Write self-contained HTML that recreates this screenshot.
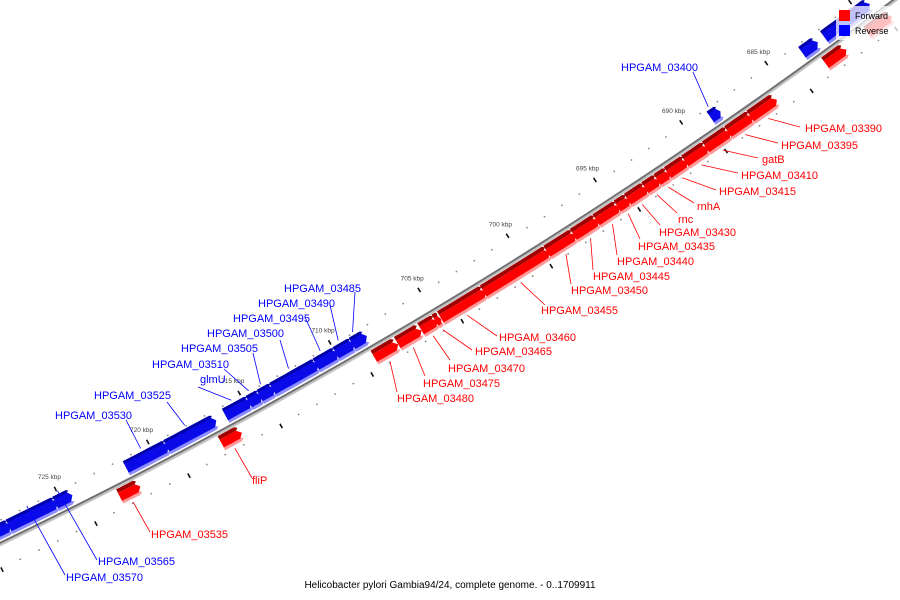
<!DOCTYPE html>
<html><head><meta charset="utf-8"><style>
html,body{margin:0;padding:0;background:#fff;}
svg{display:block;font-family:"Liberation Sans","DejaVu Sans",sans-serif;}
</style></head><body>
<svg id="chart" width="900" height="600" viewBox="0 0 900 600" xmlns="http://www.w3.org/2000/svg">
<g id="ticks"></g>
<g id="backbone"></g>
<g id="genes"></g>
<g id="labels"></g>
<g>
<rect x="836" y="6" width="64" height="34" fill="#fff" fill-opacity="0.75"/>
<rect x="839" y="10" width="11" height="11" fill="#f00"/>
<text x="855" y="19" font-size="9" fill="#000">Forward</text>
<rect x="839" y="25" width="11" height="11" fill="#00f"/>
<text x="855" y="34" font-size="9" fill="#000">Reverse</text>
</g>
<text x="450" y="588" font-size="10" text-anchor="middle" fill="#000">Helicobacter pylori Gambia94/24, complete genome. - 0..1709911</text>
</svg>
<script>
// gene data (kbp)
const geneNames = ["","","","","HPGAM_03390","HPGAM_03395","gatB","HPGAM_03410","HPGAM_03415","rnhA","rnc","HPGAM_03430","HPGAM_03435","HPGAM_03440","HPGAM_03445","HPGAM_03450","HPGAM_03455","HPGAM_03460","HPGAM_03465","HPGAM_03470","HPGAM_03475","HPGAM_03480","fliP","HPGAM_03535","HPGAM_03400","HPGAM_03485","HPGAM_03490","HPGAM_03495","HPGAM_03500","HPGAM_03505","HPGAM_03510","glmU","HPGAM_03525","HPGAM_03530","HPGAM_03565","HPGAM_03570",""];
const geneStart = [679.0,681.7,679.5,682.6,685.8,687.2,688.5,689.8,691.0,692.0,692.6,693.3,694.3,694.9,696.1,697.4,698.9,702.5,704.9,705.2,706.1,707.4,716.0,721.5,688.3,708.5,709.2,710.1,711.2,713.6,714.3,714.9,716.8,719.4,724.6,725.4,727.9];
const geneEnd = [680.2,682.7,682.0,683.3,687.1,688.4,689.7,690.9,691.9,692.5,693.2,694.2,694.8,696.0,697.3,698.8,702.4,704.8,705.1,705.9,707.2,708.5,716.9,722.4,688.7,709.1,710.0,711.1,713.5,714.2,714.8,716.1,719.3,721.5,725.3,727.8,729.0];
const geneStrand = [1,1,-1,-1,1,1,1,1,1,1,1,1,1,1,1,1,1,1,1,1,1,1,1,1,-1,-1,-1,-1,-1,-1,-1,-1,-1,-1,-1,-1,-1];
const tickLabels = [685,690,695,700,705,710,715,720,725];
// label layout (text x, center y, leader end x, y)
const labelX = [0,0,0,0,805,781,762,741,719,697,678,659,638,617,593,571,541,499,475,448,423,397,252,151,621,284,258,233,207,181,152,200,94,55,98,66,0];
const labelY = [0,0,0,0,128,145,159,175,191,206,219,232,246,261,276,290,310,337,351,368,383,398,480,534,67,288,303,318,333,348,364,379,395,415,561,577,0];
const leadX = [0,0,0,0,800,778,758,738,716,694,677,660,640,617,593,571,545,497,472,450,425,397,252,150,693,355,330,305,280,253,224,198,167,126,97,65,0];
const leadY = [0,0,0,0,127,143,158,173,190,203,213,225,239,255,270,284,305,336,350,360,376,392,478,532,72,292,305,317,340,353,369,387,402,420,560,575,0];

const CX=-2304, CY=-4254, R=5322, A0=54.58, D=0.2243;
const NS="http://www.w3.org/2000/svg";
function pt(k,r){const t=(A0+(k-685)*D)*Math.PI/180;return [CX+r*Math.cos(t),CY+r*Math.sin(t)];}
function mk(tag,attrs,parent){const e=document.createElementNS(NS,tag);for(const a in attrs)e.setAttribute(a,attrs[a]);parent.appendChild(e);return e;}
function band(lo,hi,r1,r2,tip){
  const p=[];const n=8;
  for(let i=0;i<=n;i++){p.push(pt(hi-(hi-lo)*i/n,r1));}
  if(tip){p.push(pt(lo-tip,(r1+r2)/2));}
  for(let i=0;i<=n;i++){p.push(pt(lo+(hi-lo)*i/n,r2));}
  return p.map(q=>q[0].toFixed(1)+","+q[1].toFixed(1)).join(" ");
}
const gT=document.getElementById("ticks"),gB=document.getElementById("backbone"),gG=document.getElementById("genes"),gL=document.getElementById("labels");
// backbone
function arcPath(r){const a=pt(674,r),b=pt(733,r);return `M${a[0]},${a[1]} A${r},${r} 0 0 1 ${b[0]},${b[1]}`;}
let e=mk("path",{d:arcPath(R+1.5),stroke:"#c4c4c4","stroke-width":2.2,fill:"none"},gB);


e=mk("path",{d:arcPath(R-0.5),stroke:"#707070","stroke-width":2,fill:"none"},gB);


// dots and dashes
for(let k=674;k<=733;k++){
  if(k%5===0){const a=pt(k,R-27),b=pt(k,R-22);
    e=mk("line",{x1:a[0],y1:a[1],x2:b[0],y2:b[1],stroke:"#111","stroke-width":1.6},gT);
    
    
  }else{const a=pt(k,R-21);
    e=mk("circle",{cx:a[0],cy:a[1],r:0.9,fill:"#888"},gT);
    
    
  }
  if((k+1)%5===0){const a=pt(k,R+22),b=pt(k,R+27);
    e=mk("line",{x1:a[0],y1:a[1],x2:b[0],y2:b[1],stroke:"#111","stroke-width":1.6},gT);
    
    
  }else{const a=pt(k,R+23);
    e=mk("circle",{cx:a[0],cy:a[1],r:0.9,fill:"#888"},gT);
    
    
  }
}
tickLabels.forEach(k=>{const a=pt(k,R-38);
  const t=mk("text",{x:a[0],y:a[1]+2,"font-size":6.5,"text-anchor":"middle",fill:"#444"},gT);
  t.textContent=k+" kbp";
  
  
});
// genes
geneStart.forEach((lo,i)=>{
  const hi=geneEnd[i], s=geneStrand[i];
  const g=mk("g",{},gG);
  
  
  const tip=Math.min(0.2,(hi-lo)*0.4);
  if(s>0){
    mk("polygon",{points:band(lo,hi,R+15,R+19,tip*0.8),fill:"#ff9a9a"},g);
    mk("polygon",{points:band(lo,hi,R+7,R+16,tip),fill:"#ff0000"},g);
    mk("polygon",{points:band(lo,hi,R+3,R+7,tip*0.6),fill:"#a00000"},g);
  }else{
    mk("polygon",{points:band(lo,hi,R-7,R-3,tip*0.8),fill:"#8c8cff"},g);
    mk("polygon",{points:band(lo,hi,R-17,R-6,tip),fill:"#0a0ae8"},g);
    mk("polygon",{points:band(lo,hi,R-19,R-16,tip*0.6),fill:"#0000a8"},g);
  }
});
// labels
geneNames.forEach((n,i)=>{
  if(!n)return;
  const s=geneStrand[i], col=s>0?"#ff0000":"#0000ff";
  const m=(geneStart[i]+geneEnd[i])/2;
  const a=pt(m,s>0?R+22:R-22);
  const l=mk("line",{x1:a[0],y1:a[1],x2:leadX[i],y2:leadY[i],stroke:col,"stroke-width":0.8},gL);
  
  
  const t=mk("text",{x:labelX[i],y:labelY[i]+4,"font-size":11,fill:col},gL);
  t.textContent=n;
  
  
});
</script>
</body></html>
